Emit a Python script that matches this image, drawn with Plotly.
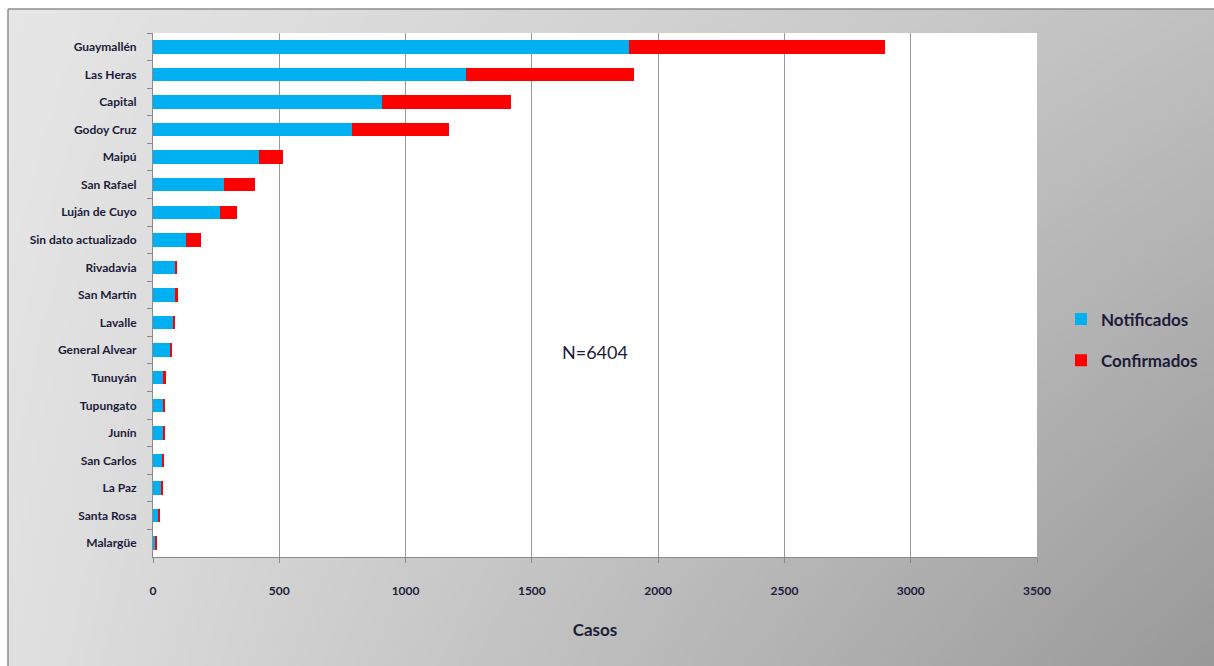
import zlib, struct, base64
import plotly.graph_objects as go

# ---------------- data ----------------
departamentos = ["Guaymallén", "Las Heras", "Capital", "Godoy Cruz", "Maipú", "San Rafael",
                 "Luján de Cuyo", "Sin dato actualizado", "Rivadavia", "San Martín", "Lavalle",
                 "General Alvear", "Tunuyán", "Tupungato", "Junín", "San Carlos", "La Paz",
                 "Santa Rosa", "Malargüe"]
notificados = [1886, 1239, 906, 788, 421, 281, 264, 131, 87, 87, 82, 71, 41, 41, 41, 36, 32, 20, 8]
confirmados = [1014, 664, 511, 384, 95, 124, 67, 60, 9, 10, 4, 4, 11, 7, 7, 5, 5, 5, 5]
x_ticks = [0, 500, 1000, 1500, 2000, 2500, 3000, 3500]

# ---------------- layout geometry (pixels) ----------------
W, H = 1214, 666
L, R, T, B = 153, 1037, 33, 557
PW, PH = R - L, B - T

def px_x(p):
    return (p - L) / PW

def px_y(p):
    return (B - p) / PH

# ---------------- background gradient image ----------------
def make_png(w, h):
    raw = bytearray()
    for j in range(h):
        raw.append(0)
        t = j / (h - 1)
        for i in range(w):
            u = i / (w - 1)
            v = int(round(230 - 38 * u - 6 * t - 33 * u * t))
            raw += bytes((v, v, v))

    def chunk(tag, data):
        c = struct.pack(">I", len(data)) + tag + data
        return c + struct.pack(">I", zlib.crc32(tag + data) & 0xFFFFFFFF)

    png = (b"\x89PNG\r\n\x1a\n"
           + chunk(b"IHDR", struct.pack(">IIBBBBB", w, h, 8, 2, 0, 0, 0))
           + chunk(b"IDAT", zlib.compress(bytes(raw), 9))
           + chunk(b"IEND", b""))
    return "data:image/png;base64," + base64.b64encode(png).decode()

bg_src = make_png(240, 130)

TXT = "#1c1c3a"
FONT = "Lato, Roboto, sans-serif"

fig = go.Figure()
fig.add_trace(go.Bar(y=departamentos, x=notificados, orientation="h", name="Notificados",
                     marker=dict(color="#00B0F0", line=dict(width=0)),
                     legendgroup="a", legendrank=1))
fig.add_trace(go.Bar(y=departamentos, x=confirmados, orientation="h", name="Confirmados",
                     marker=dict(color="#FF0000", line=dict(width=0)),
                     legendgroup="b", legendrank=2))

fig.update_layout(
    width=W, height=H,
    margin=dict(l=L, r=W - R, t=T, b=H - B, pad=0, autoexpand=False),
    paper_bgcolor="white", plot_bgcolor="white",
    barmode="stack", bargap=0.51,
    font=dict(family=FONT, color=TXT),
    showlegend=True,
    legend=dict(x=px_x(1061), y=px_y(340), xanchor="left", yanchor="middle",
                bgcolor="rgba(0,0,0,0)", itemwidth=30, tracegroupgap=16,
                traceorder="grouped",
                font=dict(family=FONT, size=17, color=TXT, weight="bold")),
    xaxis=dict(range=[0, 3500], tickvals=x_ticks, showgrid=True, gridcolor="#999999",
               gridwidth=1, zeroline=False, showline=True, linecolor="#8a8a8a", linewidth=1,
               ticks="outside", ticklen=5, tickcolor="#8a8a8a",
               tickfont=dict(family=FONT, size=12, color=TXT, weight="bold"),
               ticklabelstandoff=18,
               title=dict(text="Casos", standoff=26,
                          font=dict(family=FONT, size=17, color=TXT, weight="bold"))),
    yaxis=dict(type="category", autorange="reversed", showgrid=False, zeroline=False,
               showline=True, linecolor="#8a8a8a", linewidth=1,
               ticks="outside", ticklen=5, tickcolor="#8a8a8a", tickson="boundaries",
               tickfont=dict(family=FONT, size=12, color=TXT, weight="bold"),
               ticklabelstandoff=13),
    images=[dict(source=bg_src, xref="paper", yref="paper",
                 x=px_x(8), y=px_y(9), sizex=(W - 8) / PW, sizey=(H - 9) / PH,
                 xanchor="left", yanchor="top", sizing="stretch", layer="below")],
    shapes=[
        dict(type="rect", xref="paper", yref="paper", x0=0, x1=1, y0=0, y1=1,
             fillcolor="white", line=dict(width=0), layer="below"),
        dict(type="line", xref="paper", yref="paper", x0=px_x(8), x1=px_x(W),
             y0=px_y(9), y1=px_y(9), line=dict(color="#8e8e8e", width=1.5)),
        dict(type="line", xref="paper", yref="paper", x0=px_x(8), x1=px_x(8),
             y0=px_y(9), y1=px_y(H), line=dict(color="#8e8e8e", width=1.5)),
    ],
    annotations=[dict(text="N=6404", xref="paper", yref="paper", x=0.5, y=px_y(352),
                      showarrow=False,
                      font=dict(family=FONT, size=18, color=TXT))],
)

fig.write_html("out.html")
